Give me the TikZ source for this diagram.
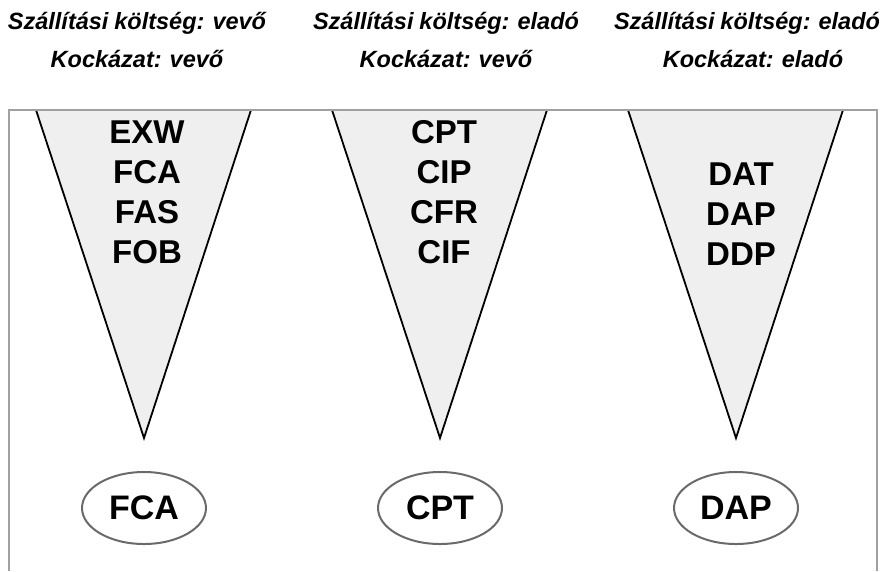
\documentclass[tikz,border=0pt]{standalone}
\usepackage{fontspec}
\setmainfont{Liberation Sans}
\usetikzlibrary{shapes.geometric}
\definecolor{trifill}{HTML}{EFEFEF}
\definecolor{boxgray}{HTML}{A0A0A0}
\definecolor{ovalgray}{HTML}{6A6A6A}
\newcommand{\headfont}{\fontsize{23.5}{23.5}\selectfont\bfseries\itshape\spaceskip=0.25em plus 0.05em\relax}
\tikzset{
  head/.style={font=\headfont, anchor=base, inner sep=0pt},
  list/.style={font=\fontsize{33}{40}\selectfont\bfseries, anchor=base, inner sep=0pt, align=center},
  tri/.style={fill=trifill, draw=none},
  triside/.style={draw=black, line width=1.8pt, line join=miter},
  oval/.style={ellipse, draw=ovalgray, line width=2pt, minimum width=124pt, minimum height=72pt, inner sep=0pt, font=\fontsize{34}{34}\selectfont\bfseries},
  frame/.style={draw=boxgray, line width=1.5pt}
}
\begin{document}
\begin{tikzpicture}[x=1pt,y=-1pt]
\useasboundingbox (0,0) rectangle (885,571);
% headers
\node[head] (h1a) at (137,29) {Szállítási költség: vevő};
\node[head] (h1b) at (137,67) {Kockázat: vevő};
\node[head] (h2a) at (446,29) {Szállítási költség: eladó};
\node[head] (h2b) at (446,67) {Kockázat: vevő};
\node[head] (h3a) at (747,29) {Szállítási költség: eladó};
\node[head] (h3b) at (753,67) {Kockázat: eladó};
% triangles
\foreach \c in {144,440,736}{
  \fill[tri] (\c-108,110) -- (\c+107,110) -- (\c,438) -- cycle;
  \draw[triside] (\c-108,110) -- (\c,438) -- (\c+107,110);
}
% frame
\draw[frame] (9,571) -- (9,110) -- (877,110) -- (877,571);
% lists (base = last line)
\node[list] (l1) at (147,263) {EXW\\FCA\\FAS\\FOB};
\node[list] (l2) at (444,263) {CPT\\CIP\\CFR\\CIF};
\node[list] (l3) at (741,265) {DAT\\DAP\\DDP};
% ovals
\node[oval] (o1) at (144,508) {FCA};
\node[oval] (o2) at (440,508) {CPT};
\node[oval] (o3) at (736,508) {DAP};
\end{tikzpicture}
\end{document}
